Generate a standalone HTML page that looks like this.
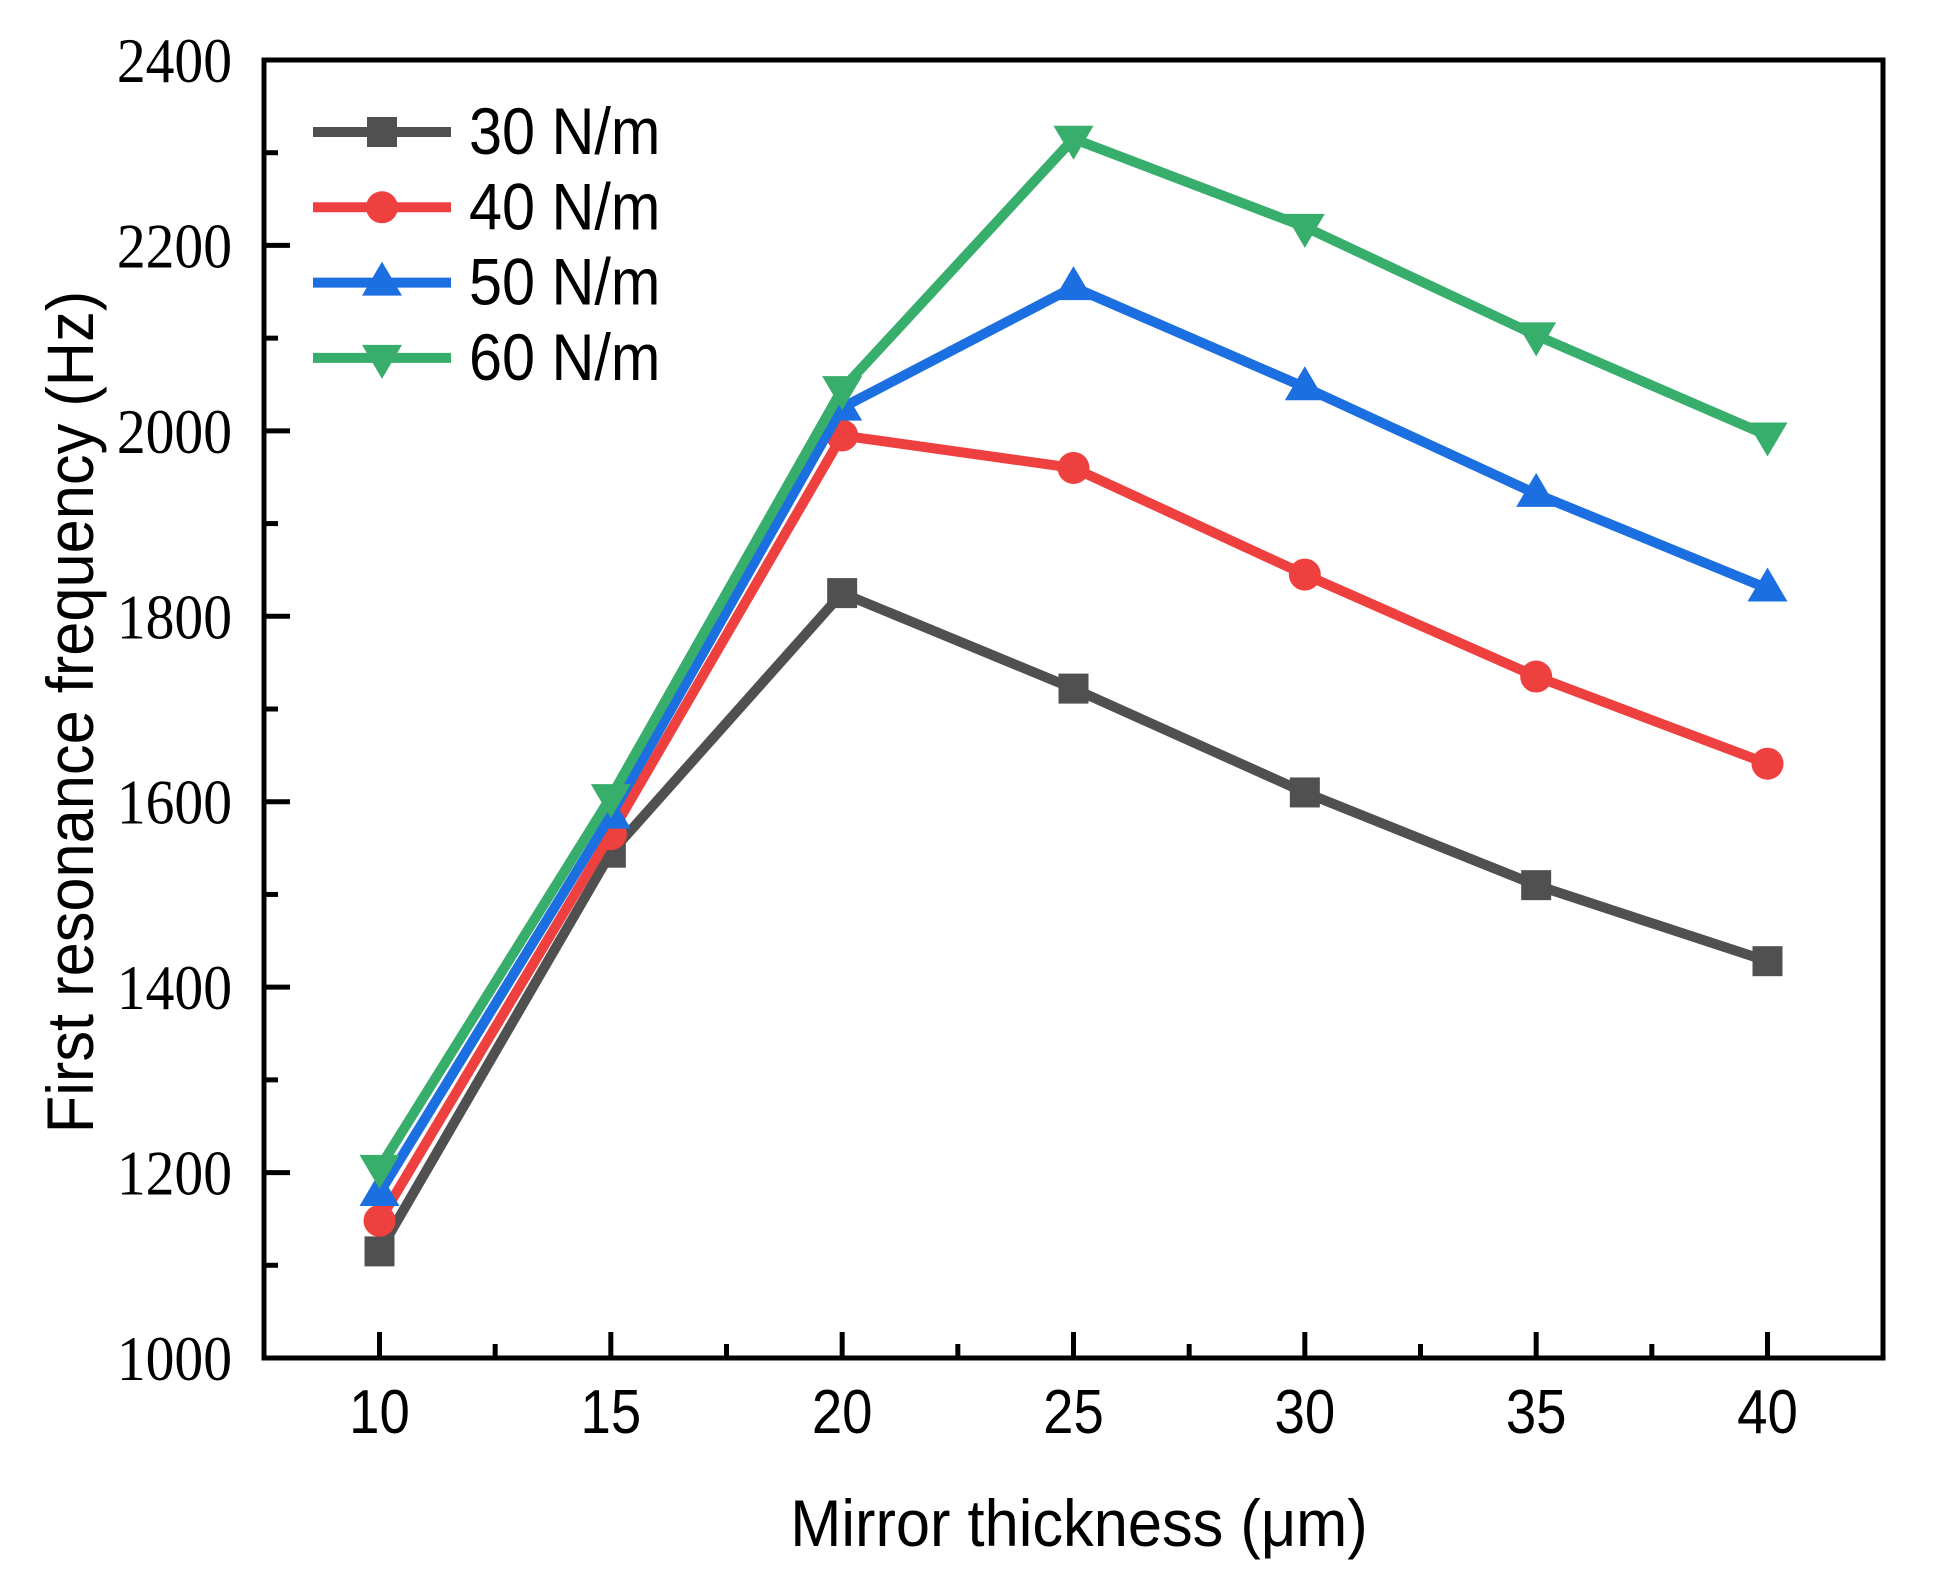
<!DOCTYPE html>
<html><head><meta charset="utf-8">
<style>
html,body{margin:0;padding:0;background:#fff;}
svg{display:block;}
</style></head>
<body>
<svg id="chart" width="1933" height="1580" viewBox="0 0 1933 1580" xmlns="http://www.w3.org/2000/svg">
  <g id="plot"></g>
  <g id="axes"></g>
  <g id="legend"></g>
  <text transform="translate(1079,1546) scale(0.93,1)" font-family="Liberation Sans, sans-serif" font-size="66" text-anchor="middle">Mirror thickness (μm)</text>
  <text transform="translate(93,712) rotate(-90) scale(0.93,1)" font-family="Liberation Sans, sans-serif" font-size="66" text-anchor="middle">First resonance frequency (Hz)</text>
</svg>
<script>
const categories = [10, 15, 20, 25, 30, 35, 40];
const xTicks = [10, 15, 20, 25, 30, 35, 40];
const yTicks = [1000, 1200, 1400, 1600, 1800, 2000, 2200, 2400];
const seriesNames = ["30 N/m", "40 N/m", "50 N/m", "60 N/m"];
const s30 = [1115, 1545, 1825, 1722, 1610, 1510, 1428];
const s40 = [1148, 1565, 1995, 1960, 1845, 1735, 1641];
const s50 = [1178, 1585, 2025, 2155, 2047, 1932, 1830];
const s60 = [1205, 1605, 2045, 2315, 2220, 2103, 1995];

const NS = "http://www.w3.org/2000/svg";
const L = 264, R = 1883, T = 60, B = 1358;
const X0 = 379.5, X1 = 1767.5;
function xs(v){ return X0 + (v - 10) / 30 * (X1 - X0); }
function ys(v){ return B - (v - 1000) / 1400 * (B - T); }
function mk(tag, attrs, parent){
  const e = document.createElementNS(NS, tag);
  for (const k in attrs) e.setAttribute(k, attrs[k]);
  parent.appendChild(e);
  return e;
}
const plot = document.getElementById('plot');
const axes = document.getElementById('axes');
const legend = document.getElementById('legend');

const frame = mk('rect', {x: L, y: T, width: R - L, height: B - T, fill: 'none', stroke: '#000', 'stroke-width': 5}, axes);



xTicks.forEach((t, i) => {
  const x = xs(t);
  const tk = mk('line', {x1: x, x2: x, y1: B, y2: B - 26, stroke: '#000', 'stroke-width': 5}, axes);
  
  
  const lb = mk('text', {transform: `translate(${x},1433) scale(0.88,1)`, 'font-family': 'Liberation Sans, sans-serif', 'font-size': 62, 'text-anchor': 'middle'}, axes);
  lb.textContent = t;
  
  
  if (i < xTicks.length - 1) {
    const xm = xs(t + 2.5);
    const mt = mk('line', {x1: xm, x2: xm, y1: B, y2: B - 14, stroke: '#000', 'stroke-width': 5}, axes);
    
    
  }
});
yTicks.forEach((t, i) => {
  const y = ys(t);
  const tk = mk('line', {x1: L, x2: L + 26, y1: y, y2: y, stroke: '#000', 'stroke-width': 5}, axes);
  
  
  const lb = mk('text', {transform: `translate(232,${y + 22}) scale(0.9,1)`, 'font-family': 'Liberation Serif, serif', 'font-size': 64, 'text-anchor': 'end'}, axes);
  lb.textContent = t;
  
  
  if (i < yTicks.length - 1) {
    const ym = ys(t + 100);
    const mt = mk('line', {x1: L, x2: L + 14, y1: ym, y2: ym, stroke: '#000', 'stroke-width': 5}, axes);
    
    
  }
});

const colors = ['#505050', '#ef4040', '#1c6fe0', '#38ae6c'];
const shapes = ['square', 'circle', 'up', 'down'];
const data = [s30, s40, s50, s60];

function marker(shape, x, y, color, parent){
  let e;
  if (shape === 'square') e = mk('rect', {x: x - 15, y: y - 15, width: 30, height: 30, fill: color}, parent);
  else if (shape === 'circle') e = mk('circle', {cx: x, cy: y, r: 16, fill: color}, parent);
  else if (shape === 'up') e = mk('polygon', {points: `${x},${y-21} ${x-20},${y+13} ${x+20},${y+13}`, fill: color}, parent);
  else e = mk('polygon', {points: `${x},${y+21} ${x-20},${y-13} ${x+20},${y-13}`, fill: color}, parent);
  return e;
}

data.forEach((vals, si) => {
  const g = mk('g', {}, plot);
  
  
  const pts = vals.map((v, i) => xs(categories[i]) + ',' + ys(v)).join(' ');
  const pl = mk('polyline', {points: pts, fill: 'none', stroke: colors[si], 'stroke-width': 10, 'stroke-linejoin': 'miter'}, g);
  
  
  vals.forEach((v, i) => {
    const m = marker(shapes[si], xs(categories[i]), ys(v), colors[si], g);
    
    
  });

  const ly = 132 + si * 75.3;
  const lg = mk('g', {}, legend);
  
  
  mk('line', {x1: 313, x2: 451, y1: ly, y2: ly, stroke: colors[si], 'stroke-width': 10}, lg);
  marker(shapes[si], 382, ly, colors[si], lg);
  const lt = mk('text', {transform: `translate(469,${ly + 22}) scale(0.9,1)`, 'font-family': 'Liberation Sans, sans-serif', 'font-size': 66}, lg);
  lt.textContent = seriesNames[si];
  
  
});
</script>
</body></html>
